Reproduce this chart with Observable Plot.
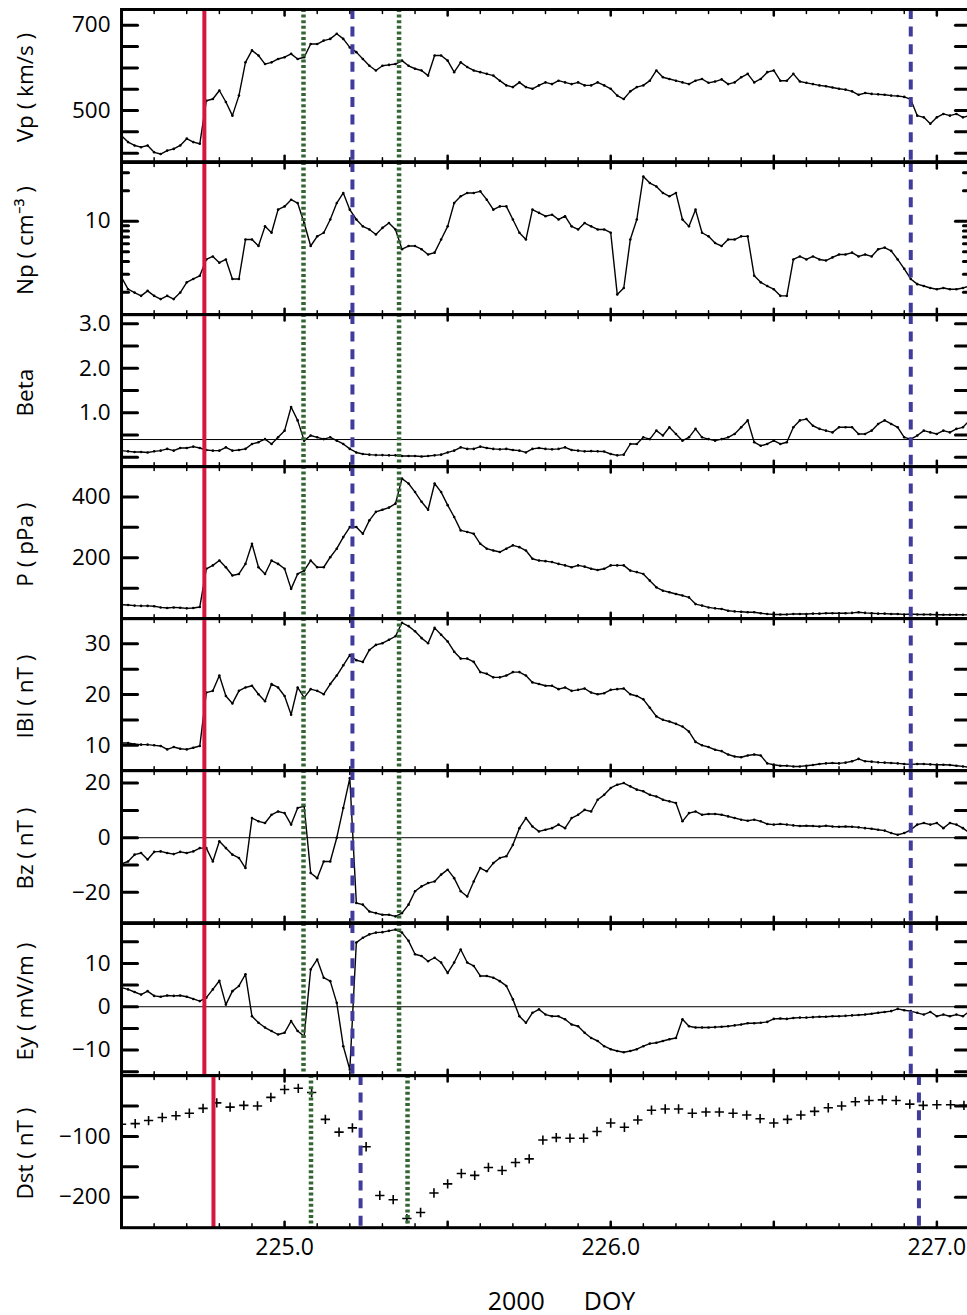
<!DOCTYPE html>
<html><head><meta charset="utf-8">
<script src="https://cdn.jsdelivr.net/npm/d3@7"></script>
<script src="https://cdn.jsdelivr.net/npm/@observablehq/plot@0.6"></script>
<style>
html,body{margin:0;padding:0;background:#fff;overflow:hidden;}
#chart{position:relative;width:967px;height:1315px;overflow:hidden;background:#fff;}
</style></head><body><div id="chart"></div>
<script>
// ---------- data (day of year 2000) ----------
const doy = [
224.50,224.52,224.54,224.56,224.58,224.60,224.62,224.64,224.66,224.68,
224.70,224.72,224.74,224.76,224.78,224.80,224.82,224.84,224.86,224.88,
224.90,224.92,224.94,224.96,224.98,225.00,225.02,225.04,225.06,225.08,
225.10,225.12,225.14,225.16,225.18,225.20,225.22,225.24,225.26,225.28,
225.30,225.32,225.34,225.36,225.38,225.40,225.42,225.44,225.46,225.48,
225.50,225.52,225.54,225.56,225.58,225.60,225.62,225.64,225.66,225.68,
225.70,225.72,225.74,225.76,225.78,225.80,225.82,225.84,225.86,225.88,
225.90,225.92,225.94,225.96,225.98,226.00,226.02,226.04,226.06,226.08,
226.10,226.12,226.14,226.16,226.18,226.20,226.22,226.24,226.26,226.28,
226.30,226.32,226.34,226.36,226.38,226.40,226.42,226.44,226.46,226.48,
226.50,226.52,226.54,226.56,226.58,226.60,226.62,226.64,226.66,226.68,
226.70,226.72,226.74,226.76,226.78,226.80,226.82,226.84,226.86,226.88,
226.90,226.92,226.94,226.96,226.98,227.00,227.02,227.04,227.06,227.08,
227.10];

const vp = [
441,426,418,414,418,402,398,406,410,418,
434,426,422,523,527,547,520,488,535,613,
641,629,609,613,621,625,633,621,625,656,
656,664,668,680,668,648,637,621,605,594,
605,607,609,617,605,598,594,582,629,629,
617,590,613,602,594,590,586,582,570,559,
555,566,555,551,559,566,562,570,566,562,
566,559,559,566,559,551,535,527,545,555,
559,570,594,578,574,570,566,562,570,574,
565,568,573,562,566,578,586,566,574,590,
594,570,570,586,568,565,562,559,557,554,
551,549,545,537,541,539,538,537,535,534,
532,526,488,484,469,484,492,488,492,484,
488];

const np = [
2.8,2.14,1.98,1.84,2.06,1.84,1.71,1.84,1.71,1.98,
2.5,2.7,2.9,4.2,4.5,3.9,4.2,2.7,2.7,6.6,
6.6,5.7,8.9,7.7,13.0,14.0,16.3,15.1,9.6,5.7,
7.1,7.7,10.4,15.1,19.0,13.0,10.4,8.9,8.3,7.4,
8.6,9.6,8.3,5.3,5.7,5.7,5.3,4.7,4.9,6.6,
8.9,15.1,17.6,19.0,19.0,19.7,16.3,13.0,14.0,14.0,
10.4,7.7,6.6,13.0,12.1,11.2,11.6,10.4,11.2,8.9,
8.3,9.6,8.9,8.3,8.3,7.7,1.9,2.2,6.6,10.4,
27.6,23.8,22.0,19.0,17.6,19.0,10.4,8.9,13.0,7.7,
7.1,6.1,5.7,6.6,6.6,7.1,7.1,2.9,2.5,2.3,
2.14,1.84,1.84,4.2,4.5,4.2,4.5,4.2,4.1,4.4,
4.7,4.7,4.9,4.5,4.7,4.5,5.3,5.5,5.1,4.2,
3.4,2.7,2.4,2.3,2.2,2.14,2.2,2.14,2.14,2.2,
2.3];

const beta = [
0.15,0.135,0.12,0.12,0.11,0.135,0.15,0.19,0.15,0.21,
0.21,0.24,0.21,0.165,0.15,0.15,0.225,0.15,0.165,0.19,
0.30,0.34,0.41,0.30,0.45,0.60,1.13,0.83,0.375,0.49,
0.45,0.41,0.45,0.375,0.30,0.19,0.11,0.075,0.06,0.05,
0.05,0.045,0.045,0.03,0.03,0.03,0.02,0.03,0.045,0.06,
0.11,0.15,0.225,0.19,0.19,0.24,0.21,0.19,0.18,0.19,
0.165,0.15,0.11,0.19,0.21,0.19,0.18,0.19,0.225,0.165,
0.15,0.135,0.14,0.135,0.13,0.075,0.045,0.06,0.30,0.30,
0.45,0.41,0.60,0.49,0.675,0.525,0.375,0.45,0.64,0.45,
0.41,0.375,0.41,0.45,0.525,0.675,0.83,0.34,0.26,0.30,
0.375,0.30,0.34,0.675,0.83,0.86,0.71,0.64,0.60,0.56,
0.675,0.675,0.675,0.525,0.525,0.60,0.75,0.83,0.75,0.675,
0.45,0.41,0.49,0.60,0.56,0.525,0.60,0.56,0.64,0.675,
0.83];

const pdyn = [
46,45,43,42,42,41,37,35,37,36,
34,35,38.5,164,175,191,169,142,147,180,
246,169,147,191,180,164,98,147,158,191,
169,169,202,230,268,301,301,279,323,351,
358,365,378,460,444,416,384,358,444,416,
373,334,290,285,279,246,230,224,219,230,
241,235,224,197,191,189,186,180,175,169,
175,171,164,160,164,175,175,175,158,153,
147,125,103,92,87,81,76,70,48,43,
37,34,32,26,24,23,21,21,18,15.4,
14,14,14,15.4,15.4,15.4,16.5,16.5,18,18,
18,18,19,21,19,18,16.5,16.5,15.4,15.4,
14,15.4,14,14,14,13,13,13,13,13,
12];

const bmag = [
10.47,10.47,10.2,10.13,10.13,10.0,9.87,9.2,9.66,9.33,
9.2,9.53,9.87,20.4,20.74,23.76,19.73,18.26,20.74,21.4,
21.74,20.07,18.7,22.08,21.4,19.73,16.04,21.4,19.4,21.07,
20.74,20.07,22.08,23.76,25.77,27.8,26.78,26.44,28.8,29.8,
30.13,30.8,31.5,34.16,33.5,32.5,31.14,30.13,33.15,31.8,
30.47,28.46,27.1,27.1,26.44,24.43,24.1,23.4,23.4,23.76,
24.43,24.43,23.76,22.4,22.08,21.74,21.74,21.07,21.4,20.74,
20.94,21.2,20.4,20.07,20.27,20.94,21.07,21.2,20.07,19.73,
19.06,17.4,15.7,15.03,14.7,14.23,13.7,12.7,10.67,10.0,
9.66,9.13,8.86,8.19,7.79,7.65,7.99,8.19,7.99,6.44,
6.17,5.97,5.97,5.84,5.84,5.97,6.11,6.31,6.44,6.51,
6.44,6.58,6.85,7.32,6.85,6.78,6.64,6.58,6.51,6.44,
6.31,6.24,6.31,6.31,6.24,6.17,6.17,6.11,5.97,5.84,
5.64];

const bz = [
-9.6,-8.7,-6.2,-5.6,-8.0,-5.2,-5.0,-5.6,-6.0,-5.2,
-5.6,-5.0,-3.8,-3.8,-8.7,-1.3,-3.8,-6.2,-7.4,-11.1,
7.2,6.0,5.4,8.4,9.6,9.0,4.8,10.9,11.5,-12.9,
-14.8,-8.7,-8.7,0,10.9,21.8,-23.9,-24.5,-27.0,-27.6,
-28.2,-28.2,-28.8,-27.6,-24.5,-19.6,-17.8,-16.6,-16.0,-13.5,
-11.7,-14.8,-19.6,-21.5,-16.0,-11.1,-12.3,-9.3,-7.4,-6.8,
-2.6,3.5,7.2,4.1,2.3,2.9,3.5,4.8,3.5,7.2,
8.4,10.2,9.6,13.9,15.7,18.2,19.4,20.0,18.8,17.6,
17.0,15.7,15.1,13.9,13.3,12.7,6.0,9.0,9.6,8.4,
8.7,8.7,8.4,7.8,7.2,6.6,6.2,6.6,6.0,5.0,
4.8,5.0,4.8,4.5,4.3,4.4,4.3,4.1,4.4,4.1,
4.0,4.1,4.0,3.8,3.5,3.3,2.9,2.6,1.7,1.1,
1.7,2.9,4.8,5.4,4.8,5.4,3.5,5.4,4.8,3.5,
1.7];

const ey = [
4.4,4.0,3.4,2.8,3.6,2.5,2.3,2.6,2.5,2.6,
2.3,1.8,1.3,2.1,4.0,6.0,0.5,3.6,4.8,7.5,
-2.2,-3.7,-4.8,-5.6,-6.4,-6.0,-3.3,-5.6,-6.8,8.6,
10.9,6.7,5.9,0.9,-9.1,-14.5,14.8,15.9,16.7,17.1,
17.2,17.5,17.8,17.1,15.2,12.1,11.7,10.5,11.3,10.2,
7.8,10.2,13.2,10.2,9.4,7.1,7.1,6.7,5.9,4.8,
1.7,-2.2,-3.7,-1.4,-0.6,-1.8,-2.2,-2.2,-2.9,-4.1,
-4.5,-6.0,-7.2,-7.9,-9.1,-9.8,-10.2,-10.5,-10.2,-9.8,
-9.1,-8.5,-8.3,-7.9,-7.5,-7.2,-2.9,-4.5,-4.8,-4.8,
-4.8,-4.7,-4.6,-4.5,-4.3,-4.1,-3.8,-3.8,-3.7,-3.5,
-2.8,-2.7,-2.8,-2.6,-2.5,-2.5,-2.4,-2.3,-2.3,-2.2,
-2.2,-2.1,-2.0,-1.9,-1.8,-1.6,-1.4,-1.2,-1.0,-0.5,
-0.8,-1.0,-1.4,-1.8,-1.2,-2.2,-1.8,-2.2,-1.8,-2.2,
-1.0];

// hourly Dst
const dstDoy = [
224.500,224.542,224.583,224.625,224.667,224.708,224.750,224.792,224.833,224.875,
224.917,224.958,225.000,225.042,225.083,225.125,225.167,225.208,225.250,225.292,
225.333,225.375,225.417,225.458,225.500,225.542,225.583,225.625,225.667,225.708,
225.750,225.792,225.833,225.875,225.917,225.958,226.000,226.042,226.083,226.125,
226.167,226.208,226.250,226.292,226.333,226.375,226.417,226.458,226.500,226.542,
226.583,226.625,226.667,226.708,226.750,226.792,226.833,226.875,226.917,226.958,
227.000,227.042,227.083];
const dst = [
-80,-79,-74,-69,-66,-62,-54,-45,-52,-49,
-50,-36,-23,-21,-28,-72,-93,-86,-117,-197,
-204,-235,-225,-193,-178,-161,-164,-151,-156,-143,
-137,-106,-102,-103,-103,-92,-78,-85,-73,-57,
-55,-55,-62,-60,-60,-62,-65,-71,-78,-72,
-65,-59,-53,-50,-43,-41,-40,-41,-47,-49,
-48,-48,-49];

// event markers (shock, sheath/cloud boundaries)
const eventKind = ["shock","green","blue","green","blue"];
const eventDoy = [224.754, 225.058, 225.208, 225.351, 226.920];
const eventDoyDst = [224.782, 225.081, 225.233, 225.377, 226.945];

// axis ticks
const xMinorTicks = [224.6,224.7,224.8,224.9,225.1,225.2,225.3,225.4,225.6,225.7,225.8,225.9,
  226.1,226.2,226.3,226.4,226.6,226.7,226.8,226.9,227.1];
const xMajorTicks = [225.0,225.5,226.0,226.5,227.0];
const xLabelTicks = [225.0,226.0,227.0];
const xTitle = "2000\u00a0\u00a0\u00a0\u00a0\u00a0\u00a0DOY";

const vpTicks = [400,450,500,550,600,650,700], vpLabels = [500,700];
const npTicks = [10], npMinorTicks = [2,3,4,5,6,7,8,9,20,30], npLabels = [10];
const betaTicks = [0,0.5,1,1.5,2,2.5,3], betaLabels = [1,2,3];
const pTicks = [100,200,300,400], pLabels = [200,400];
const bTicks = [10,15,20,25,30], bLabels = [10,20,30];
const bzTicks = [-20,-10,0,10,20], bzLabels = [-20,0,20];
const eyTicks = [-15,-10,-5,0,5,10,15], eyLabels = [-10,0,10];
const dstTicks = [-200,-150,-100,-50], dstLabels = [-200,-100];

// ---------- drawing ----------
const X_DOMAIN = [224.5, 227.1];
const TOP0 = 9.3, H = 152.2, PAD = 6;
const FONT = "'Open Sans', 'Liberation Sans', sans-serif";
const minusFmt = d => d < 0 ? "\u2212" + Math.abs(d) : String(d);

const eventStyle = {
  shock: {stroke: "#d3173d", strokeWidth: 4},
  blue: {stroke: "#403c9c", strokeWidth: 4, strokeDasharray: "10,7.6"},
  green: {stroke: "#356535", strokeWidth: 4.5, strokeDasharray: "3,2.6"}
};

const panels = [
  {title: "Vp ( km/s )", values: vp, domain: [380, 737], type: "linear", ticks: vpTicks, labels: vpLabels, fmt: String},
  {title: "Np ( cm\u207b\u00b3 )", values: np, domain: [1.2, 37.9], type: "log", ticks: npTicks, minor: npMinorTicks, labels: npLabels, fmt: String},
  {title: "Beta", values: beta, domain: [-0.21, 3.21], type: "linear", ticks: betaTicks, labels: betaLabels, fmt: d => d.toFixed(1), ref: 0.4},
  {title: "P ( pPa )", values: pdyn, domain: [0, 500], type: "linear", ticks: pTicks, labels: pLabels, fmt: String},
  {title: "IBI ( nT )", values: bmag, domain: [5, 35], type: "linear", ticks: bTicks, labels: bLabels, fmt: String},
  {title: "Bz ( nT )", values: bz, domain: [-31.1, 24.6], type: "linear", ticks: bzTicks, labels: bzLabels, fmt: minusFmt, ref: 0},
  {title: "Ey ( mV/m )", values: ey, domain: [-15.9, 19.2], type: "linear", ticks: eyTicks, labels: eyLabels, fmt: minusFmt, ref: 0},
  {title: "Dst ( nT )", values: dst, times: dstDoy, domain: [-250, 0], type: "linear", ticks: dstTicks, labels: dstLabels, fmt: minusFmt, symbols: true, events: eventDoyDst}
];

const tickShape = {draw(context, l) { context.moveTo(0, 0); context.lineTo(0, -l); }};
const chart = document.getElementById("chart");

function yTicks(values, len, lenRight) {
  return [
    Plot.vectorY(values, {frameAnchor: "left", length: len, rotate: 90, anchor: "start", shape: tickShape, stroke: "black", strokeWidth: 3}),
    Plot.vectorY(values, {frameAnchor: "right", length: lenRight, rotate: -90, anchor: "start", shape: tickShape, stroke: "black", strokeWidth: 3})
  ];
}

panels.forEach((p, i) => {
  const last = i === panels.length - 1;
  const top = TOP0 + i * H;
  const mb = last ? 1315 - (top + H) : PAD;
  const times = p.times || doy;
  const rows = times.map((t, k) => ({t, v: p.values[k]}));
  const evTimes = p.events || eventDoy;
  const events = evTimes.map((t, k) => ({t, kind: eventKind[k]}));

  const marks = [];
  if (p.ref !== undefined) marks.push(Plot.ruleY([p.ref], {stroke: "black", strokeWidth: 1}));
  if (p.symbols) {
    marks.push(Plot.dot(rows, {x: "t", y: "v", symbol: "plus", r: 3.1, stroke: "black", strokeWidth: 1.6, clip: true}));
  } else {
    marks.push(Plot.line(rows, {x: "t", y: "v", stroke: "black", strokeWidth: 1.4, clip: true}));
    marks.push(Plot.dot(rows, {x: "t", y: "v", r: 1.3, fill: "black", stroke: "none", clip: true}));
  }
  for (const kind of ["shock", "green", "blue"]) {
    marks.push(Plot.ruleX(events.filter(e => e.kind === kind), {x: "t", ...eventStyle[kind]}));
  }
  marks.push(Plot.frame({stroke: "black", strokeWidth: 3}));
  marks.push(...yTicks(p.ticks, 16, 14));
  if (p.minor) marks.push(...yTicks(p.minor, 7, 6));
  // x ticks on top/bottom borders
  marks.push(Plot.vectorX(xMinorTicks, {frameAnchor: "top", length: 4, rotate: 180, anchor: "start", shape: tickShape, stroke: "black", strokeWidth: 1.5}));
  marks.push(Plot.vectorX(xMinorTicks, {frameAnchor: "bottom", length: 4, rotate: 0, anchor: "start", shape: tickShape, stroke: "black", strokeWidth: 1.5}));
  marks.push(Plot.vectorX(xMajorTicks, {frameAnchor: "top", length: 6, rotate: 180, anchor: "start", shape: tickShape, stroke: "black", strokeWidth: 2.5}));
  marks.push(Plot.vectorX(xMajorTicks, {frameAnchor: "bottom", length: 6, rotate: 0, anchor: "start", shape: tickShape, stroke: "black", strokeWidth: 2.5}));
  // y labels and title
  marks.push(Plot.axisY({ticks: p.labels, tickSize: 0, tickPadding: 11, tickFormat: p.fmt, fontSize: 22.5, label: null}));
  marks.push(Plot.text([p.title], {frameAnchor: "left", textAnchor: "middle", dx: -96, dy: 2, rotate: -90, fontSize: 22.5, fill: "black"}));
  if (last) {
    marks.push(Plot.axisX({ticks: xLabelTicks, tickSize: 0, tickPadding: 11, tickFormat: d => d.toFixed(1), fontSize: 23, label: null}));
    marks.push(Plot.text([xTitle], {frameAnchor: "bottom", textAnchor: "middle", dy: 82, dx: 16, fontSize: 25, fill: "black"}));
  }

  const svg = Plot.plot({
    width: 969,
    height: H + PAD + mb,
    marginLeft: 121, marginRight: 0, marginTop: PAD, marginBottom: mb,
    x: {domain: X_DOMAIN, axis: last ? undefined : null},
    y: {type: p.type, domain: p.domain},
    style: {fontFamily: FONT, background: "transparent", maxWidth: "none", overflow: "visible", color: "black"},
    marks
  });
  svg.style.position = "absolute";
  svg.style.left = "0px";
  svg.style.top = (top - PAD) + "px";
  chart.appendChild(svg);
});
</script></body></html>
